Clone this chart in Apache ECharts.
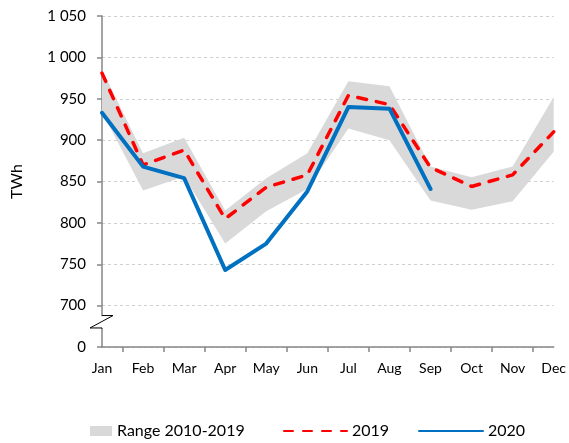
<!DOCTYPE html>
<html>
<head>
<meta charset="utf-8">
<script src="https://cdn.jsdelivr.net/npm/echarts@6/dist/echarts.min.js"></script>
<style>
body { margin: 0px; background: #fff; }
#main { width: 569px; height: 443px; }
</style>
</head>
<body>
<div id="main"></div>
<script>
var months = ['Jan', 'Feb', 'Mar', 'Apr', 'May', 'Jun', 'Jul', 'Aug', 'Sep', 'Oct', 'Nov', 'Dec'];
var rangeMin = [934, 839, 856, 775, 814, 841, 914, 900, 827, 816, 826, 886];
var rangeMax = [985, 884, 903, 815, 854, 884, 971, 965, 868, 855, 868, 952];
var y2019 = [981, 870, 888, 805, 843, 858, 954, 943, 867, 844, 858, 910];
var y2020 = [933, 868, 854, 743, 775, 838, 940, 938, 841];
// the axis is cut: 650 on the scale is shown as 0
var yTicks = [650, 700, 750, 800, 850, 900, 950, 1000, 1050];
var xTickPos = [0.5, 1.5, 2.5, 3.5, 4.5, 5.5, 6.5, 7.5, 8.5, 9.5, 10.5];

var FONT = 'Lato';
var GREY = '#868686';

var rangeSpan = [];
for (var i = 0; i < rangeMax.length; i++) {
	rangeSpan.push(rangeMax[i] - rangeMin[i]);
}

function fmtY(v) {
	if (v === yTicks[0]) return '0';
	return String(v).replace(/\B(?=(\d{3})+(?!\d))/g, ' ');
}

var legendText = { fontSize: 16, color: '#000', fontFamily: FONT };

var option = {
	animation: false,
	textStyle: { fontFamily: FONT },
	grid: { left: 102, right: 13, top: 16, bottom: 96 },
	legend: [
		{
			left: 90, top: 423, padding: 0, itemWidth: 22, itemHeight: 10,
			textStyle: legendText,
			data: [{ name: 'Range 2010-2019', icon: 'rect', itemStyle: { color: '#d9d9d9' } }]
		},
		{
			left: 283, top: 423, padding: 0, itemWidth: 63, itemHeight: 10,
			textStyle: legendText,
			itemStyle: { opacity: 0 },
			data: ['2019']
		},
		{
			left: 418, top: 423, padding: 0, itemWidth: 64, itemHeight: 10,
			textStyle: legendText,
			itemStyle: { opacity: 0 },
			data: ['2020']
		}
	],
	xAxis: [
		{
			type: 'category',
			data: months,
			boundaryGap: false,
			axisLine: { lineStyle: { color: GREY, width: 1.5 } },
			axisTick: { show: false },
			axisLabel: { color: '#000', fontSize: 14, margin: 14, fontFamily: FONT },
			splitLine: { show: false }
		},
		{
			type: 'value',
			min: 0,
			max: 11,
			position: 'bottom',
			axisLine: { show: false },
			axisLabel: { show: false },
			splitLine: { show: false },
			axisTick: { show: true, customValues: xTickPos, length: 5, lineStyle: { color: GREY, width: 1.5 } }
		}
	],
	yAxis: {
		type: 'value',
		min: 650,
		max: 1050,
		interval: 50,
		name: 'TWh',
		nameLocation: 'middle',
		nameGap: 77,
		nameTextStyle: { fontSize: 16, color: '#000', fontFamily: FONT },
		axisLine: { show: true, lineStyle: { color: GREY, width: 1.5 } },
		axisTick: { show: true, length: 5, lineStyle: { color: GREY, width: 1.5 } },
		axisLabel: { color: '#000', fontSize: 15, margin: 16, formatter: fmtY, fontFamily: FONT },
		splitLine: { lineStyle: { color: '#d0d0d0', type: [3, 3], width: 1 } }
	},
	series: [
		{
			name: 'low',
			type: 'line',
			stack: 'range',
			data: rangeMin,
			symbol: 'none',
			silent: true,
			lineStyle: { width: 0, opacity: 0 }
		},
		{
			name: 'Range 2010-2019',
			type: 'line',
			stack: 'range',
			data: rangeSpan,
			symbol: 'none',
			silent: true,
			itemStyle: { color: '#d9d9d9' },
			lineStyle: { width: 0, opacity: 0 },
			areaStyle: { color: '#d9d9d9', opacity: 1 }
		},
		{
			name: '2019',
			type: 'line',
			data: y2019,
			symbol: 'none',
			itemStyle: { color: '#ff0000' },
			lineStyle: { color: '#ff0000', width: 3.5, type: [9, 10], cap: 'round', join: 'round' }
		},
		{
			name: '2020',
			type: 'line',
			data: y2020,
			symbol: 'none',
			itemStyle: { color: '#0070c0' },
			lineStyle: { color: '#0070c0', width: 4, cap: 'round', join: 'round' }
		}
	]
};

var myChart = echarts.init(document.getElementById('main'));
myChart.setOption(option);

// axis break mark between 0 and 700
var ax = myChart.convertToPixel({ xAxisIndex: 0 }, months[0]);
var b1 = myChart.convertToPixel({ yAxisIndex: 0 }, 688);
var b2 = myChart.convertToPixel({ yAxisIndex: 0 }, 673);
myChart.setOption({
	graphic: [
		{
			type: 'rect', z: 100,
			shape: { x: ax - 2, y: b1, width: 4, height: b2 - b1 },
			style: { fill: '#fff' }
		},
		{
			type: 'polyline', z: 101,
			shape: { points: [[ax, b1 - 0.5], [ax, b1], [ax + 11, b1], [ax - 12, b2], [ax, b2], [ax, b2 + 0.5]] },
			style: { stroke: '#000', lineWidth: 1, fill: null }
		}
	]
});
</script>
</body>
</html>
